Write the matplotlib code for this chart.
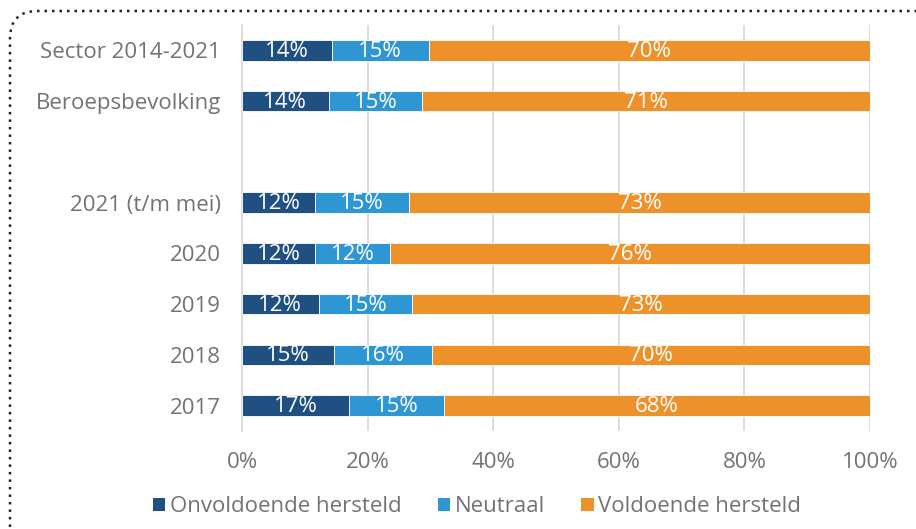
import matplotlib
matplotlib.use("Agg")
import matplotlib.pyplot as plt
from matplotlib.patches import FancyBboxPatch, Patch
import numpy as np

categories = ["Sector 2014-2021", "Beroepsbevolking", "", "2021 (t/m mei)", "2020", "2019", "2018", "2017"]
onvoldoende = [14.3, 13.8, np.nan, 11.7, 11.6, 12.2, 14.6, 17.1]
neutraal = [15.4, 14.9, np.nan, 14.9, 12.0, 14.9, 15.6, 15.1]
voldoende = [70.3, 71.3, np.nan, 73.4, 76.4, 72.9, 69.8, 67.8]
series_names = ["Onvoldoende hersteld", "Neutraal", "Voldoende hersteld"]
colors = ["#1F5081", "#2E96D3", "#ED922B"]
xticks = [0, 20, 40, 60, 80, 100]

plt.rcParams['font.family'] = ['Open Sans', 'DejaVu Sans']
gray = "#737373"

fig = plt.figure(figsize=(9.16, 5.29), dpi=100)
ax = fig.add_axes([242/916, 1-431/529, (870-242)/916, (431-25)/529])

y = np.arange(len(categories))
left = np.zeros(len(categories))
for vals, col, name in zip([onvoldoende, neutraal, voldoende], colors, series_names):
    v = np.array(vals, dtype=float)
    mask = ~np.isnan(v)
    ax.barh(y[mask], v[mask], left=left[mask], height=0.4, color=col, edgecolor="white",
            linewidth=0.6, label=name, zorder=3)
    for yi in y[mask]:
        ax.text(left[yi] + v[yi]/2, yi + 0.02, f"{v[yi]:.0f}%", ha="center", va="center",
                color="white", fontsize=16, zorder=4)
    left = left + np.nan_to_num(v)

ax.set_xlim(0, 100)
ax.set_ylim(len(categories)-0.5, -0.5)
ax.set_yticks(y)
ax.set_yticklabels(categories)
ax.set_xticks(xticks)
ax.set_xticklabels([f"{t}%" for t in xticks])
ax.tick_params(axis="both", length=0, labelsize=16, labelcolor=gray)
ax.tick_params(axis="y", pad=15)
ax.tick_params(axis="x", pad=15)
ax.grid(axis="x", color="#D9D9D9", linewidth=1.3, zorder=0)
for s in ["top", "right", "bottom"]:
    ax.spines[s].set_visible(False)
ax.spines["left"].set_color("#D9D9D9")
ax.spines["left"].set_linewidth(1.3)

handles = [Patch(facecolor=c, label=n) for c, n in zip(colors, series_names)]
fig.legend(handles=handles, loc="center", bbox_to_anchor=(477/916, 1-507/529), ncol=3, frameon=False,
           fontsize=16, labelcolor=gray, handlelength=0.55, handleheight=0.55, handletextpad=0.2,
           columnspacing=1.65)

border = FancyBboxPatch((10/916, -0.2), 1.2, 1-11/529+0.2, boxstyle="round,pad=0,rounding_size=0.03",
                        transform=fig.transFigure, fill=False, edgecolor="#222222", linestyle=(0, (1, 2)),
                        linewidth=1.8, mutation_aspect=916/529)
fig.patches.append(border)

fig.savefig("out.png", dpi=100)
